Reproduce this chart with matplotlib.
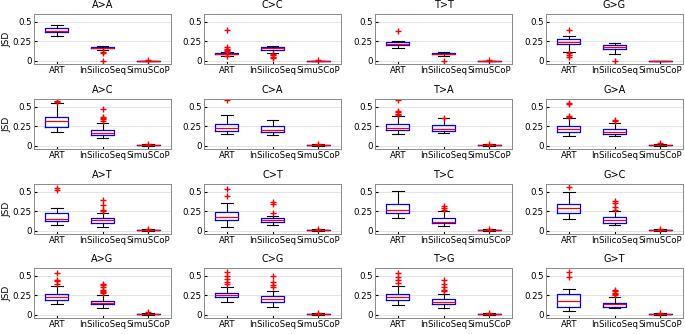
import matplotlib
matplotlib.use("Agg")
import matplotlib.pyplot as plt

titles = ["A>A", "C>C", "T>T", "G>G",
          "A>C", "C>A", "T>A", "G>A",
          "A>T", "C>T", "T>C", "G>C",
          "A>G", "C>G", "T>G", "G>T"]
tools = ["ART", "InSilicoSeq", "SimuSCoP"]

# per panel: [ART, InSilicoSeq, SimuSCoP]
whislo = [[0.31, 0.13, 0.0], [0.06, 0.10, 0.0], [0.16, 0.06, 0.0], [0.11, 0.09, 0.0],
          [0.18, 0.10, 0.0], [0.15, 0.14, 0.0], [0.15, 0.16, 0.0], [0.12, 0.12, 0.0],
          [0.07, 0.05, 0.0], [0.05, 0.07, 0.0], [0.16, 0.06, 0.0], [0.15, 0.07, 0.0],
          [0.13, 0.09, 0.0], [0.16, 0.10, 0.0], [0.12, 0.08, 0.0], [0.05, 0.08, 0.0]]
q1 = [[0.37, 0.155, 0.0], [0.08, 0.14, 0.0], [0.20, 0.08, 0.0], [0.21, 0.15, 0.0],
      [0.24, 0.13, 0.005], [0.19, 0.17, 0.005], [0.20, 0.19, 0.005], [0.17, 0.15, 0.005],
      [0.12, 0.10, 0.005], [0.13, 0.11, 0.005], [0.22, 0.10, 0.005], [0.22, 0.10, 0.005],
      [0.19, 0.13, 0.005], [0.22, 0.16, 0.005], [0.19, 0.13, 0.005], [0.10, 0.10, 0.005]]
med = [[0.385, 0.165, 0.0], [0.085, 0.155, 0.0], [0.215, 0.09, 0.0], [0.245, 0.17, 0.0],
       [0.32, 0.155, 0.008], [0.22, 0.20, 0.008], [0.22, 0.21, 0.008], [0.21, 0.18, 0.008],
       [0.15, 0.13, 0.008], [0.18, 0.13, 0.008], [0.27, 0.11, 0.008], [0.29, 0.14, 0.008],
       [0.22, 0.15, 0.008], [0.25, 0.20, 0.008], [0.22, 0.16, 0.008], [0.18, 0.13, 0.008]]
q3 = [[0.42, 0.175, 0.0], [0.095, 0.175, 0.0], [0.235, 0.10, 0.0], [0.28, 0.195, 0.0],
      [0.37, 0.20, 0.012], [0.28, 0.25, 0.012], [0.28, 0.26, 0.012], [0.25, 0.21, 0.012],
      [0.23, 0.16, 0.012], [0.24, 0.16, 0.012], [0.34, 0.16, 0.012], [0.34, 0.18, 0.012],
      [0.26, 0.18, 0.012], [0.28, 0.24, 0.012], [0.26, 0.20, 0.012], [0.26, 0.15, 0.012]]
whishi = [[0.46, 0.19, 0.0], [0.11, 0.185, 0.0], [0.255, 0.11, 0.0], [0.31, 0.22, 0.0],
          [0.55, 0.29, 0.02], [0.40, 0.33, 0.02], [0.38, 0.35, 0.02], [0.35, 0.29, 0.02],
          [0.29, 0.23, 0.02], [0.35, 0.19, 0.02], [0.51, 0.25, 0.02], [0.50, 0.25, 0.02],
          [0.37, 0.25, 0.02], [0.35, 0.30, 0.02], [0.37, 0.27, 0.02], [0.33, 0.22, 0.02]]
fliers = [
    [[], [0.11, 0.10, 0.0], [0.005]],
    [[0.40, 0.17, 0.15, 0.13, 0.12, 0.11, 0.06], [0.09, 0.07, 0.05, 0.03], [0.004]],
    [[0.38], [0.0], [0.004]],
    [[0.39, 0.10, 0.07, 0.05], [0.0], []],
    [[0.56, 0.57], [0.47, 0.37, 0.35, 0.34, 0.31], [0.025]],
    [[0.59], [], [0.025]],
    [[0.59, 0.45, 0.43, 0.41, 0.40], [0.36], [0.025]],
    [[0.55, 0.53, 0.38, 0.37], [0.33, 0.31], [0.03]],
    [[0.55, 0.52], [0.40, 0.33, 0.27, 0.25], [0.02]],
    [[0.54, 0.45], [0.37, 0.34, 0.22], [0.025]],
    [[], [0.31, 0.29, 0.27], [0.025]],
    [[0.56], [0.38, 0.35, 0.30, 0.27], [0.025]],
    [[0.53, 0.45, 0.43, 0.40], [0.40, 0.38, 0.35, 0.32, 0.30, 0.29, 0.28], [0.03]],
    [[0.55, 0.50, 0.46, 0.42, 0.39], [0.50, 0.42, 0.38, 0.35], [0.025]],
    [[0.54, 0.48, 0.44, 0.41], [0.45, 0.40, 0.35, 0.32, 0.30], [0.025]],
    [[0.55, 0.48], [0.32, 0.30, 0.28, 0.26, 0.25], [0.02]],
]

fig = plt.figure(figsize=(6.85, 3.34), dpi=100)
W, H = 685.0, 334.0
lefts = [34, 204, 375, 546]
tops = [14, 99, 184, 268]
aw, ah = 137, 50

for i, title in enumerate(titles):
    r, c = divmod(i, 4)
    ax = fig.add_axes([lefts[c] / W, 1 - (tops[r] + ah) / H, aw / W, ah / H])
    stats = []
    for j, name in enumerate(tools):
        stats.append(dict(label=name, whislo=whislo[i][j], q1=q1[i][j], med=med[i][j],
                          q3=q3[i][j], whishi=whishi[i][j], fliers=fliers[i][j]))
    ax.bxp(stats, positions=[1, 2, 3], widths=0.5, showfliers=True,
           boxprops=dict(color="#0000ff", linewidth=0.9),
           medianprops=dict(color="#ff0000", linewidth=0.9),
           whiskerprops=dict(color="black", linewidth=0.8),
           capprops=dict(color="black", linewidth=0.8),
           capwidths=0.25,
           flierprops=dict(marker="+", markeredgecolor="#ff0000", markersize=4,
                           linestyle="none"))
    ax.set_xlim(0.5, 3.5)
    ax.set_ylim(-0.045, 0.6)
    ax.set_yticks([0, 0.25, 0.5])
    ax.set_yticklabels(["0", "0.25", "0.5"])
    ax.yaxis.grid(True, color="#e4e4e4", linewidth=0.7)
    ax.set_axisbelow(True)
    ax.tick_params(labelsize=6.2, length=2, direction="in", pad=1.5)
    for s in ax.spines.values():
        s.set_color("#8a8a8a")
        s.set_linewidth(0.7)
    ax.set_title(title, fontsize=7, pad=4)
    if c == 0:
        ax.set_ylabel("JSD", fontsize=6.5, labelpad=1)

fig.savefig("out.png", dpi=100)
